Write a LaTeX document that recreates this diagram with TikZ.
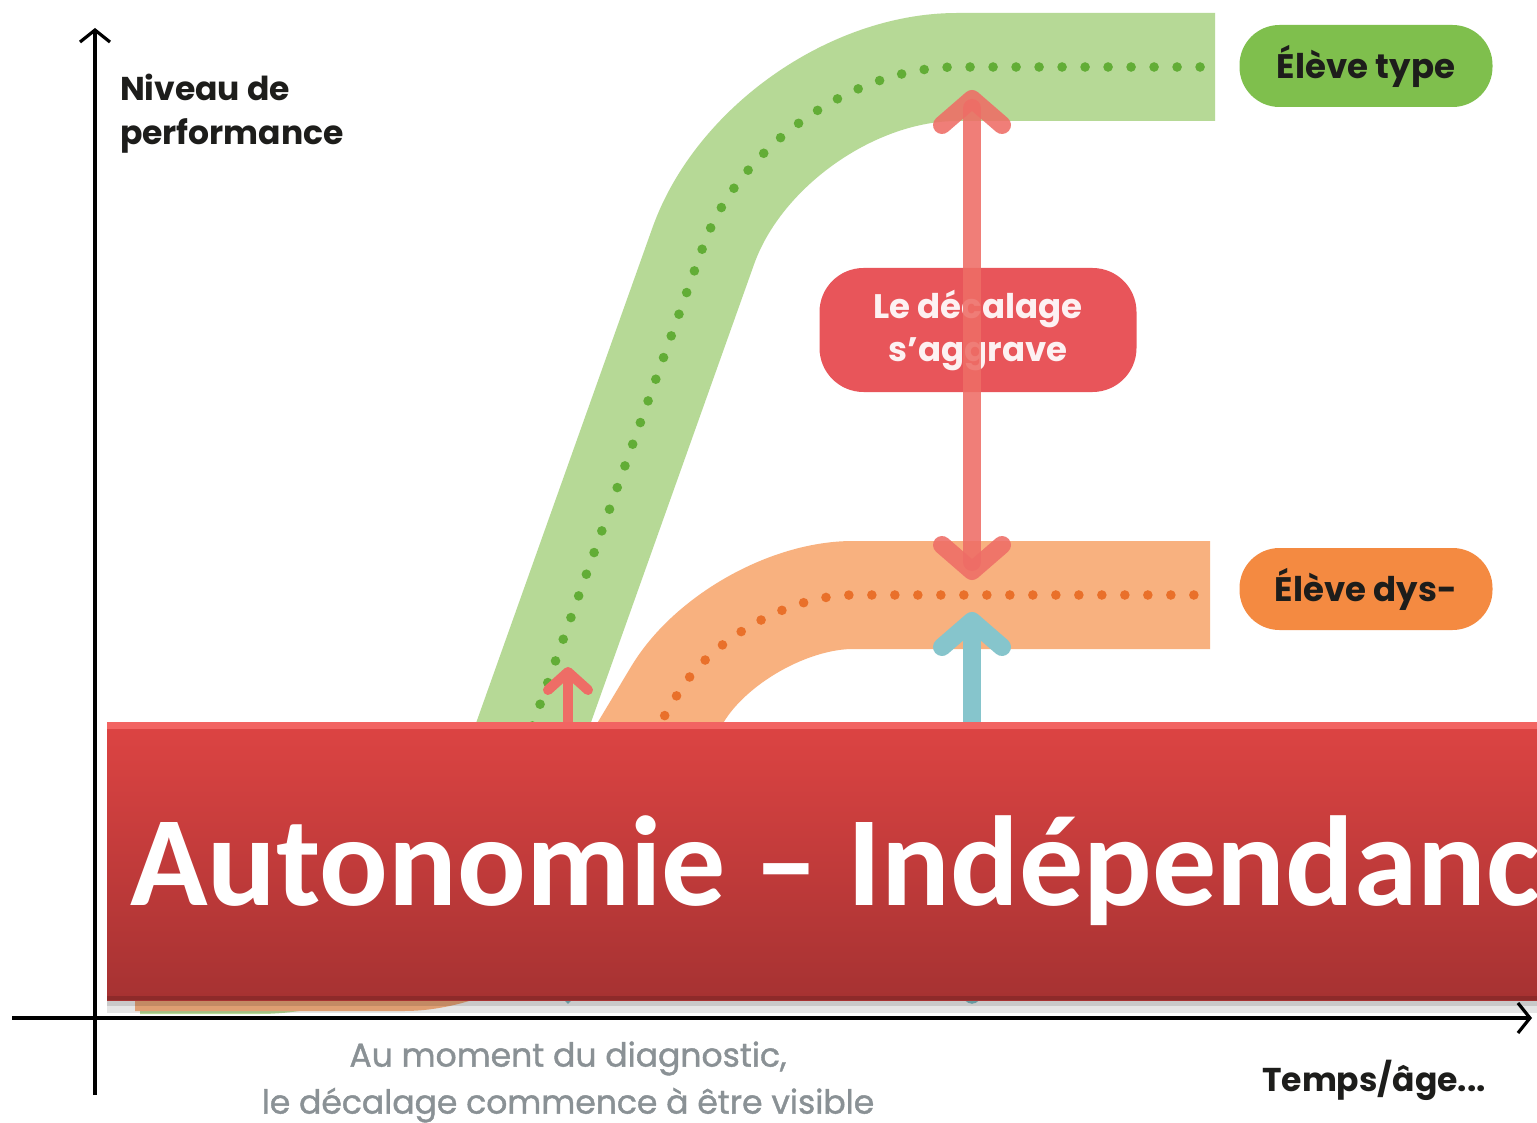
\documentclass[tikz,border=0pt]{standalone}
\usepackage{fontspec}
\setmainfont{Poppins}
\newfontfamily\bannerfont{Carlito}
\newfontfamily\notefont{Poppins}[FakeBold=1.2]
\usetikzlibrary{arrows.meta, positioning}

\definecolor{bandgreen}{HTML}{B6D996}
\definecolor{dotgreen}{HTML}{62AD36}
\definecolor{taggreen}{HTML}{7FBF4D}
\definecolor{bandorange}{HTML}{F8B17F}
\definecolor{dotorange}{HTML}{E9702A}
\definecolor{tagorange}{HTML}{F48A41}
\definecolor{gapred}{HTML}{EE6D66}
\definecolor{tagred}{HTML}{E8555A}
\definecolor{diagteal}{HTML}{86C5CC}
\definecolor{textgrey}{HTML}{8A9195}
\definecolor{textdark}{HTML}{1D1D1B}
\definecolor{bannertop}{HTML}{DD4443}
\definecolor{bannerbot}{HTML}{A63232}
\definecolor{bannerhi}{HTML}{F26462}

\tikzset{barb/.tip={Straight Barb[length=13pt,width=30pt,line cap=round,line join=round]},
         smallbarb/.tip={Straight Barb[length=9pt,width=20pt,line cap=round,line join=round]},
         axistip/.tip={Straight Barb[length=6pt,width=15pt]}}

\begin{document}
\begin{tikzpicture}[x=0.5pt, y=-0.5pt,
    every node/.style={inner sep=0pt, outer sep=0pt},
    band/.style={line width=54pt, line cap=butt},
    dots/.style={line width=4.8pt, line cap=round, dash pattern=on 0pt off 11.5pt},
    tag/.style={rounded corners=20pt, minimum width=126.5pt, minimum height=41pt,
                font=\fontsize{17}{20}\selectfont\bfseries, text=textdark},
    gap/.style={line width=9pt, line cap=round}]

    \clip (0,0) rectangle (1537,1123);
    \fill[white] (0,0) rectangle (1537,1123);

    % Bands for the two pupils
    \draw[band, bandgreen, rounded corners=95pt] (140,960) -- (449,960) -- (767,67) -- (1215,67);
    \draw[dots, dotgreen, rounded corners=95pt] (140,960) -- (449,960) -- (767,67) -- (1215,67);
    \draw[band, bandorange, rounded corners=58pt] (135,957) -- (520,957) -- (737,595) -- (1210,595);
    \draw[dots, dotorange, rounded corners=58pt] (135,957) -- (520,957) -- (737,595) -- (1210,595);

    % Labels on the right
    \node (type) [tag, fill=taggreen] at (1366,66) {Élève type};
    \node (dys) [tag, fill=tagorange] at (1366,589) {Élève dys-};

    % Gap box and arrows
    \node (gapbox) [rounded corners=22pt, fill=tagred, minimum width=158.5pt, minimum height=62pt,
                    align=center, text=white!92!tagred, font=\fontsize{17}{21.5}\selectfont\bfseries]
                    at (978,330) {Le décalage\\s’aggrave};

    \coordinate (gapTop) at (972,90);
    \coordinate (gapBot) at (972,580);
    \coordinate (diagTop) at (972,612);
    \coordinate (diagBot) at (972,1004);
    \coordinate (firstTop) at (568,667);
    \coordinate (firstBot) at (568,760);
    \coordinate (firstTail) at (568,1004);

    \draw[gap, gapred, opacity=0.88, barb-barb] (gapTop) -- (gapBot);
    \draw[gap, diagteal, {Triangle[length=5pt,width=9pt]}-barb] (diagBot) -- (diagTop);
    \draw[line width=5pt, line cap=round, gapred, -smallbarb] (firstBot) -- (firstTop);
    \draw[line width=4pt, diagteal, {Triangle[length=5pt,width=9pt]}-] (firstTail) -- ++(0,-20);

    % Banner
    \fill[black, opacity=0.10] (107,1000) rectangle (1560,1013);
    \fill[black, opacity=0.12] (107,1000) rectangle (1560,1006);
    \node (banner) [rectangle, top color=bannertop, bottom color=bannerbot,
                    minimum width=726.5pt, minimum height=139pt] at (833.5,861) {};
    \fill[bannerhi] (banner.north west) rectangle ([yshift=-3.5pt]banner.north east);
    \fill[black, opacity=0.15] ([yshift=2pt]banner.south west) rectangle (banner.south east);
    \node (title) [anchor=base west, text=white, font=\bannerfont\fontsize{64}{70}\selectfont\bfseries]
                  at (130,905) {Autonomie – Indépendanc};

    % Axes
    \coordinate (origin) at (95,1018);
    \coordinate (ytop) at (95,28);
    \coordinate (ybot) at (95,1095);
    \coordinate (xleft) at (12,1018);
    \coordinate (xright) at (1532,1018);
    \draw[line width=1.6pt, -axistip] (ybot) -- (ytop);
    \draw[line width=1.6pt, -axistip] (xleft) -- (xright);

    % Axis texts
    \node (ylabel) [anchor=north west, align=left, text=textdark,
                    font=\fontsize{16.5}{22}\selectfont\bfseries] at (120,74) {Niveau de\\performance};
    \node (xlabel) [text=textdark, font=\fontsize{16.5}{20}\selectfont\bfseries] at (1374,1080) {Temps/âge...};
    \node (diag) [align=center, text=textgrey, font=\notefont\fontsize{16.5}{23.5}\selectfont]
                 at (568,1082) {Au moment du diagnostic,\\le décalage commence à être visible};

\end{tikzpicture}
\end{document}
